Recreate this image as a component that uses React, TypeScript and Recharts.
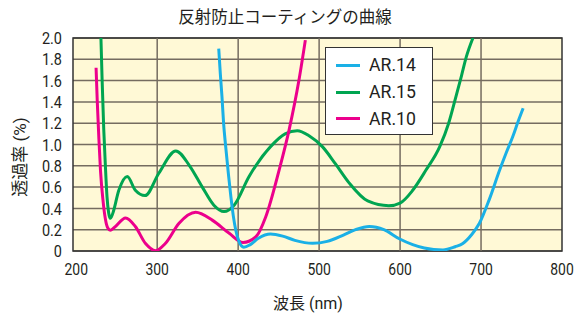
import React from 'react';
import { LineChart, Line, XAxis, YAxis, CartesianGrid, ReferenceLine, ReferenceArea, Legend } from 'recharts';

const xTicks = [200, 300, 400, 500, 600, 700, 800];
const yTicks = [0, 0.2, 0.4, 0.6, 0.8, 1.0, 1.2, 1.4, 1.6, 1.8, 2.0];
const gridWavelengths = [300, 400, 500, 600, 700];

const ar14Wavelength = [376, 378, 380, 382, 384.6, 388, 391, 394, 397, 401, 407, 415, 425, 440, 455, 470, 492, 510, 530, 545, 562, 580, 599, 615.6, 630, 653, 668, 677.5, 688, 698, 710, 723, 731, 739, 746, 752];
const ar14Value = [1.9, 1.66, 1.45, 1.2, 0.98, 0.72, 0.51, 0.33, 0.197, 0.09, 0.035, 0.06, 0.12, 0.16, 0.14, 0.1, 0.072, 0.09, 0.15, 0.2, 0.23, 0.2, 0.115, 0.06, 0.028, 0.01, 0.04, 0.07, 0.15, 0.26, 0.48, 0.76, 0.92, 1.07, 1.22, 1.34];

const ar15Wavelength = [230.5, 232, 234, 236, 238, 240, 242, 245, 252.6, 263, 273, 285, 302, 323, 340, 355.7, 370, 382.5, 395, 413.5, 440, 458, 473, 488, 504, 520, 537, 560, 586, 600, 615.6, 632, 649, 660, 669, 676, 681.7, 690];
const ar15Value = [2.0, 1.6, 1.14, 0.8, 0.51, 0.36, 0.307, 0.35, 0.57, 0.7, 0.57, 0.52, 0.73, 0.94, 0.8, 0.6, 0.43, 0.37, 0.43, 0.7, 0.98, 1.1, 1.13, 1.08, 0.98, 0.82, 0.64, 0.47, 0.425, 0.45, 0.57, 0.76, 0.98, 1.2, 1.45, 1.65, 1.82, 2.0];

const ar10Wavelength = [224.5, 226, 228, 230, 233, 236, 239, 242, 247, 261, 273, 285.6, 298, 310, 327, 347.5, 368, 389, 406, 422, 434, 450.6, 463, 475, 483];
const ar10Value = [1.72, 1.4, 1.05, 0.75, 0.48, 0.3, 0.215, 0.195, 0.22, 0.31, 0.23, 0.07, 0.003, 0.07, 0.26, 0.363, 0.29, 0.166, 0.08, 0.134, 0.32, 0.76, 1.14, 1.6, 1.98];

const seriesNames = ['AR.14', 'AR.15', 'AR.10'];
const seriesColors = ['#1AB0E6', '#00A551', '#EC008C'];

// merged table over all wavelengths (library needs one data table)
const buildTable = () => {
  const map = new Map<number, any>();
  const add = (key: string, xs: number[], ys: number[]) => {
    xs.forEach((x, i) => {
      if (!map.has(x)) map.set(x, { x });
      map.get(x)[key] = ys[i];
    });
  };
  add('ar14', ar14Wavelength, ar14Value);
  add('ar15', ar15Wavelength, ar15Value);
  add('ar10', ar10Wavelength, ar10Value);
  return Array.from(map.values()).sort((a, b) => a.x - b.x);
};
const table = buildTable();

const latin = "Roboto, 'Noto Sans', sans-serif";
const mixed = "Roboto, 'Noto Sans CJK JP', sans-serif";
const textColor = '#231F20';
const gridColor = '#756C60';
const borderColor = '#333333';

const XTick = (props: any) => {
  const { x, y, payload } = props;
  return (
    <text transform={`translate(${x},${y}) scale(0.82,1)`} textAnchor="middle" dy="0.71em" fontFamily={latin} fontSize={17} fill={textColor}>
      {payload.value}
    </text>
  );
};

const YTick = (props: any) => {
  const { x, y, payload } = props;
  const v = payload.value as number;
  return (
    <text transform={`translate(${x},${y}) scale(0.85,1)`} textAnchor="end" dy="0.36em" fontFamily={latin} fontSize={17} fill={textColor}>
      {v === 0 ? '0' : v.toFixed(1)}
    </text>
  );
};

const LegendBox = () => (
  <div
    style={{
      width: 108,
      height: 88,
      boxSizing: 'border-box',
      border: `1.5px solid ${borderColor}`,
      background: '#ffffff',
      paddingTop: 4,
    }}
  >
    {seriesNames.map((name, i) => (
      <div key={name} style={{ display: 'flex', alignItems: 'center', height: 26.7 }}>
        <div style={{ marginLeft: 10, width: 24, height: 3, background: seriesColors[i] }} />
        <span
          style={{
            marginLeft: 9,
            display: 'inline-block',
            transform: 'scaleX(0.93)',
            transformOrigin: 'left center',
            fontFamily: latin,
            fontSize: 19,
            color: textColor,
            lineHeight: '22px',
            whiteSpace: 'nowrap',
          }}
        >
          {name}
        </span>
      </div>
    ))}
  </div>
);

export default function App() {
  return (
    <div style={{ position: 'absolute', left: 0, top: 0, width: 575, height: 314, background: '#ffffff' }}>
      <div
        style={{
          position: 'absolute',
          left: 0,
          top: 6,
          width: 570,
          textAlign: 'center',
          fontFamily: "'Noto Sans CJK JP', sans-serif",
          fontSize: 16.5,
          lineHeight: '20px',
          color: textColor,
        }}
      >
        反射防止コーティングの曲線
      </div>
      <LineChart width={575} height={314} data={table} margin={{ top: 38, right: 13, left: 0, bottom: 0 }}>
        <CartesianGrid vertical={false} stroke={gridColor} strokeWidth={1.5} fill="#FFF9D6" fillOpacity={1} />
        {gridWavelengths.map((w) => (
          <ReferenceLine key={w} x={w} stroke={gridColor} strokeWidth={1.5} />
        ))}
        <XAxis
          type="number"
          dataKey="x"
          domain={[196, 800]}
          ticks={xTicks}
          interval={0}
          allowDataOverflow
          height={63}
          axisLine={false}
          tickLine={false}
          tickSize={0}
          tickMargin={12}
          tick={<XTick />}
        />
        <YAxis
          type="number"
          domain={[0, 2]}
          ticks={yTicks}
          interval={0}
          allowDataOverflow
          width={73}
          axisLine={false}
          tickLine={false}
          tickSize={0}
          tickMargin={11}
          tick={<YTick />}
        />
        <Line dataKey="ar15" name={seriesNames[1]} type="monotone" connectNulls stroke={seriesColors[1]} strokeWidth={3} dot={false} isAnimationActive={false} />
        <Line dataKey="ar10" name={seriesNames[2]} type="monotone" connectNulls stroke={seriesColors[2]} strokeWidth={3} dot={false} isAnimationActive={false} />
        <Line dataKey="ar14" name={seriesNames[0]} type="monotone" connectNulls stroke={seriesColors[0]} strokeWidth={3} dot={false} isAnimationActive={false} />
        <ReferenceArea x1={196} x2={800} y1={0} y2={2} fill="none" stroke={borderColor} strokeWidth={1.5} ifOverflow="visible" />
        <Legend
          layout="vertical"
          verticalAlign="middle"
          align="center"
          wrapperStyle={{ position: 'absolute', left: 325, top: 47, width: 108 }}
          content={() => <LegendBox />}
        />
      </LineChart>
      <div
        style={{
          position: 'absolute',
          left: -40,
          top: 147,
          width: 120,
          height: 20,
          lineHeight: '20px',
          textAlign: 'center',
          transform: 'rotate(-90deg)',
          fontFamily: mixed,
          fontSize: 17,
          color: textColor,
        }}
      >
        透過率 (%)
      </div>
      <div
        style={{
          position: 'absolute',
          left: 208,
          top: 294,
          width: 200,
          lineHeight: '20px',
          textAlign: 'center',
          fontFamily: mixed,
          fontSize: 16,
          color: textColor,
        }}
      >
        波長 (nm)
      </div>
    </div>
  );
}
